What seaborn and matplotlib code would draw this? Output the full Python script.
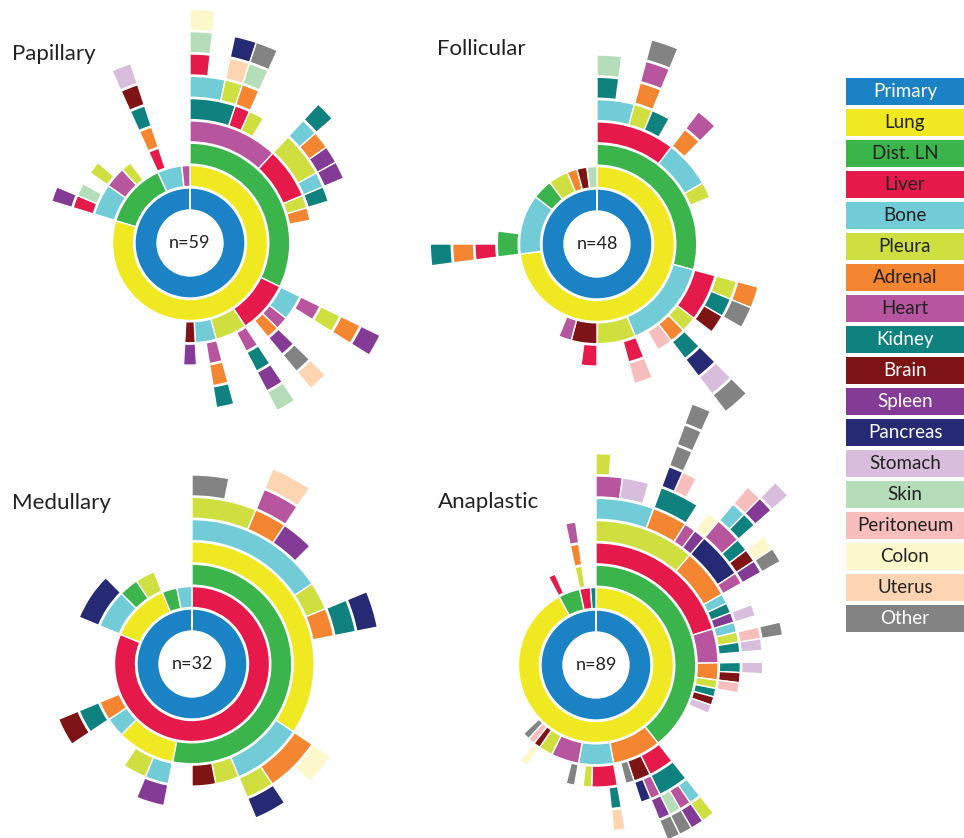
import matplotlib
matplotlib.use("Agg")
import numpy as np
import matplotlib.pyplot as plt
import seaborn as sns

# legend / colour key
sites = ["Primary", "Lung", "Dist. LN", "Liver", "Bone", "Pleura", "Adrenal", "Heart",
         "Kidney", "Brain", "Spleen", "Pancreas", "Stomach", "Skin", "Peritoneum",
         "Colon", "Uterus", "Other"]
site_colors = ["#1B82C6", "#F0E922", "#3BB44B", "#E5194A", "#72CCD8", "#CEDF3F",
               "#F58631", "#B8559F", "#0F8280", "#7F1416", "#843B96", "#262A74",
               "#D8BEDC", "#B6DDB9", "#F8BDBD", "#FCF8CB", "#FED5B3", "#838383"]

# each path = sequence of metastatic sites, count = number of patients ending there
papillary_paths = [
    "Lung>Dist. LN>Heart>Kidney>Bone>Liver>Skin>Colon",
    "Lung>Dist. LN>Heart>Kidney>Bone",
    "Lung>Dist. LN>Heart>Kidney>Pleura>Uterus>Pancreas",
    "Lung>Dist. LN>Heart>Liver>Adrenal>Skin>Other",
    "Lung>Dist. LN>Heart>Pleura",
    "Lung>Dist. LN>Heart",
    "Lung>Dist. LN>Liver>Pleura>Bone>Kidney",
    "Lung>Dist. LN>Liver>Pleura>Adrenal",
    "Lung>Dist. LN>Liver>Pleura>Spleen",
    "Lung>Dist. LN>Liver>Bone>Spleen",
    "Lung>Dist. LN>Pleura>Kidney",
    "Lung>Dist. LN>Adrenal",
    "Lung>Dist. LN",
    "Lung>Liver>Bone>Heart>Pleura>Adrenal>Spleen",
    "Lung>Liver>Bone",
    "Lung>Liver>Heart",
    "Lung>Liver>Adrenal>Spleen>Other>Uterus",
    "Lung>Liver",
    "Lung>Pleura>Heart>Kidney>Spleen>Skin",
    "Lung>Pleura",
    "Lung>Bone>Heart>Adrenal>Kidney",
    "Lung>Bone",
    "Lung>Brain>Spleen",
    "Lung",
    "Dist. LN>Bone>Liver>Spleen",
    "Dist. LN>Bone>Skin",
    "Dist. LN>Bone",
    "Dist. LN>Heart>Pleura",
    "Dist. LN>Heart",
    "Dist. LN>Pleura",
    "Dist. LN",
    "Bone>Liver>Adrenal>Kidney>Brain>Stomach",
    "Bone",
    "Heart",
]
papillary_counts = [1, 1, 1, 1, 1, 2, 1, 1, 1, 1, 1, 1, 6, 1, 1, 1, 1, 1, 1, 2, 1, 1, 1, 17,
                    1, 1, 1, 1, 1, 1, 2, 1, 2, 1]

follicular_paths = [
    "Lung>Dist. LN>Liver>Bone>Kidney>Skin",
    "Lung>Dist. LN>Liver>Bone",
    "Lung>Dist. LN>Liver>Pleura>Adrenal>Heart>Other",
    "Lung>Dist. LN>Liver>Kidney",
    "Lung>Dist. LN>Liver",
    "Lung>Dist. LN>Bone>Adrenal>Heart",
    "Lung>Dist. LN>Bone",
    "Lung>Dist. LN>Pleura",
    "Lung>Dist. LN",
    "Lung>Bone>Liver>Pleura>Adrenal",
    "Lung>Bone>Liver>Kidney>Other",
    "Lung>Bone>Liver>Brain",
    "Lung>Bone>Pleura",
    "Lung>Bone>Adrenal>Kidney>Pancreas>Stomach>Other",
    "Lung>Bone>Peritoneum",
    "Lung>Bone",
    "Lung>Pleura>Liver>Peritoneum",
    "Lung>Pleura",
    "Lung>Brain>Liver",
    "Lung>Brain",
    "Lung>Heart",
    "Lung",
    "Bone>Dist. LN>Liver>Adrenal>Kidney",
    "Bone>Dist. LN",
    "Bone",
    "Dist. LN",
    "Pleura",
    "Adrenal",
    "Brain",
    "Skin",
]
follicular_counts = [1, 1, 1, 1, 1, 1, 2, 1, 5, 1, 1, 1, 1, 1, 1, 1, 1, 2, 1, 1, 1, 8,
                     1, 1, 4, 2, 2, 1, 1, 1]

medullary_paths = [
    "Liver>Dist. LN>Lung>Bone>Pleura>Other",
    "Liver>Dist. LN>Lung>Bone>Pleura",
    "Liver>Dist. LN>Lung>Bone>Adrenal>Heart>Uterus",
    "Liver>Dist. LN>Lung>Bone>Spleen",
    "Liver>Dist. LN>Lung>Bone",
    "Liver>Dist. LN>Lung>Pleura",
    "Liver>Dist. LN>Lung>Adrenal>Kidney>Pancreas",
    "Liver>Dist. LN>Lung",
    "Liver>Dist. LN>Bone>Adrenal>Colon",
    "Liver>Dist. LN>Bone>Adrenal",
    "Liver>Dist. LN>Bone>Pleura>Pancreas",
    "Liver>Dist. LN>Pleura",
    "Liver>Dist. LN>Brain",
    "Liver>Dist. LN",
    "Liver>Lung>Bone>Spleen",
    "Liver>Lung>Pleura",
    "Liver>Lung",
    "Liver>Bone",
    "Liver>Adrenal>Kidney>Brain",
    "Liver",
    "Lung>Bone>Pancreas",
    "Lung>Dist. LN",
    "Lung>Pleura",
    "Dist. LN",
    "Bone",
]
medullary_counts = [1, 1, 1, 1, 1, 1, 1, 4, 1, 1, 1, 1, 1, 1, 1, 1, 1, 1, 1, 4, 2, 1, 1, 1, 1]

anaplastic_paths = [
    "Lung>Dist. LN>Liver>Pleura>Bone>Heart>Pleura",
    "Lung>Dist. LN>Liver>Pleura>Bone>Heart",
    "Lung>Dist. LN>Liver>Pleura>Bone>Stomach",
    "Lung>Dist. LN>Liver>Pleura>Bone",
    "Lung>Dist. LN>Liver>Pleura>Adrenal>Kidney>Pancreas>Other>Other>Other",
    "Lung>Dist. LN>Liver>Pleura>Adrenal>Kidney>Peritoneum",
    "Lung>Dist. LN>Liver>Pleura>Adrenal>Kidney",
    "Lung>Dist. LN>Liver>Pleura>Heart",
    "Lung>Dist. LN>Liver>Pleura>Spleen>Colon",
    "Lung>Dist. LN>Liver>Adrenal>Pancreas>Heart>Bone>Peritoneum",
    "Lung>Dist. LN>Liver>Adrenal>Pancreas>Heart>Kidney>Spleen>Stomach",
    "Lung>Dist. LN>Liver>Adrenal>Pancreas>Kidney",
    "Lung>Dist. LN>Liver>Adrenal>Pancreas>Brain>Colon",
    "Lung>Dist. LN>Liver>Adrenal>Heart>Spleen>Other",
    "Lung>Dist. LN>Liver>Bone",
    "Lung>Dist. LN>Liver>Kidney",
    "Lung>Dist. LN>Liver>Spleen>Stomach",
    "Lung>Dist. LN>Heart>Bone",
    "Lung>Dist. LN>Heart>Pleura>Peritoneum>Other",
    "Lung>Dist. LN>Heart>Kidney>Stomach",
    "Lung>Dist. LN>Heart",
    "Lung>Dist. LN>Adrenal>Kidney>Stomach",
    "Lung>Dist. LN>Adrenal>Brain",
    "Lung>Dist. LN>Pleura>Peritoneum",
    "Lung>Dist. LN>Kidney",
    "Lung>Dist. LN>Brain",
    "Lung>Dist. LN>Stomach",
    "Lung>Dist. LN",
    "Lung>Adrenal>Liver>Kidney>Bone>Pleura",
    "Lung>Adrenal>Liver>Kidney>Heart>Spleen",
    "Lung>Adrenal>Liver>Kidney>Skin>Other",
    "Lung>Adrenal>Brain>Heart>Spleen>Other",
    "Lung>Adrenal>Brain>Pancreas",
    "Lung>Adrenal>Other",
    "Lung>Adrenal",
    "Lung>Bone>Liver>Kidney>Uterus",
    "Lung>Bone>Liver",
    "Lung>Bone>Pleura",
    "Lung>Bone",
    "Lung>Heart>Other",
    "Lung>Heart",
    "Lung>Pleura",
    "Lung>Brain>Colon",
    "Lung>Peritoneum",
    "Lung>Other",
    "Lung",
    "Dist. LN>Liver",
    "Dist. LN",
    "Liver>Pleura>Adrenal>Heart",
    "Liver",
    "Kidney",
]
anaplastic_counts = [1, 1, 2, 1, 1, 1, 1, 1, 1, 1, 1, 1, 1, 1, 1, 1, 1, 1, 1, 1, 1, 1, 1, 1,
                     1, 1, 1, 7, 1, 1, 1, 1, 1, 1, 1, 1, 2, 1, 1, 1, 3, 2, 1, 1, 1, 26,
                     1, 3, 1, 1, 1]

panels = [
    ("Papillary", papillary_paths, papillary_counts),
    ("Follicular", follicular_paths, follicular_counts),
    ("Medullary", medullary_paths, medullary_counts),
    ("Anaplastic", anaplastic_paths, anaplastic_counts),
]


def ring_segments(paths, counts):
    split = [p.split(">") for p in paths]
    edges = np.concatenate([[0], np.cumsum(counts)]) / sum(counts) * 2 * np.pi
    segs = []
    for d in range(max(len(s) for s in split)):
        i = 0
        while i < len(split):
            if len(split[i]) <= d:
                i += 1
                continue
            key = split[i][:d + 1]
            j = i
            while j + 1 < len(split) and split[j + 1][:d + 1] == key:
                j += 1
            segs.append((d, split[i][d], edges[i], edges[j + 1]))
            i = j + 1
    return segs


sns.set_theme(style="white")
plt.rcParams["font.family"] = ["Lato", "DejaVu Sans"]
palette = dict(zip(sites, sns.color_palette(site_colors)))

W, H = 964, 838
fig = plt.figure(figsize=(W / 100, H / 100), dpi=100)

centers = [(190, 243), (597, 244), (192, 664), (596, 665)]
title_pos = [(12, 60), (437, 55), (12, 509), (438, 508)]
R = 290
r0, pitch, ring_h = 56.5, 22.3, 21

for (name, paths, counts), (cx, cy), (tx, ty) in zip(panels, centers, title_pos):
    ax = fig.add_axes([(cx - R) / W, 1 - (cy + R) / H, 2 * R / W, 2 * R / H],
                      projection="polar")
    ax.set_theta_zero_location("N")
    ax.set_theta_direction(-1)
    ax.set_ylim(0, R)
    ax.set_axis_off()
    ax.patch.set_alpha(0)

    ax.bar(0, 22, width=2 * np.pi, bottom=33, align="edge",
           color=palette["Primary"], edgecolor="white", linewidth=1.0)
    for d, site, t0, t1 in ring_segments(paths, counts):
        ax.bar(t0, ring_h, width=t1 - t0, bottom=r0 + d * pitch, align="edge",
               color=palette[site], edgecolor="white", linewidth=1.0)
    ax.text(0, 0, f"n={sum(counts)}", ha="center", va="center", fontsize=13, color="#222222")

    fig.text(tx / W, 1 - ty / H, name, fontsize=16, va="baseline", ha="left", color="#222222")

# colour key as a column of labelled boxes
lax = fig.add_axes([846 / W, 1 - 632 / H, 118 / W, 554 / H])
tops = [78 + 31 * i for i in range(len(sites))]
lax.barh(tops, [1] * len(sites), height=27, left=0, align="edge",
         color=[palette[s] for s in sites], linewidth=0)
light = {"Primary", "Kidney", "Brain", "Spleen", "Pancreas", "Other"}
for s, t in zip(sites, tops):
    lax.text(0.5, t + 13.5, s, ha="center", va="center", fontsize=13.5,
             color="white" if s in light else "#222222")
lax.set_xlim(0, 1)
lax.set_ylim(632, 78)
lax.set_axis_off()

fig.savefig("out.png", dpi=100)
